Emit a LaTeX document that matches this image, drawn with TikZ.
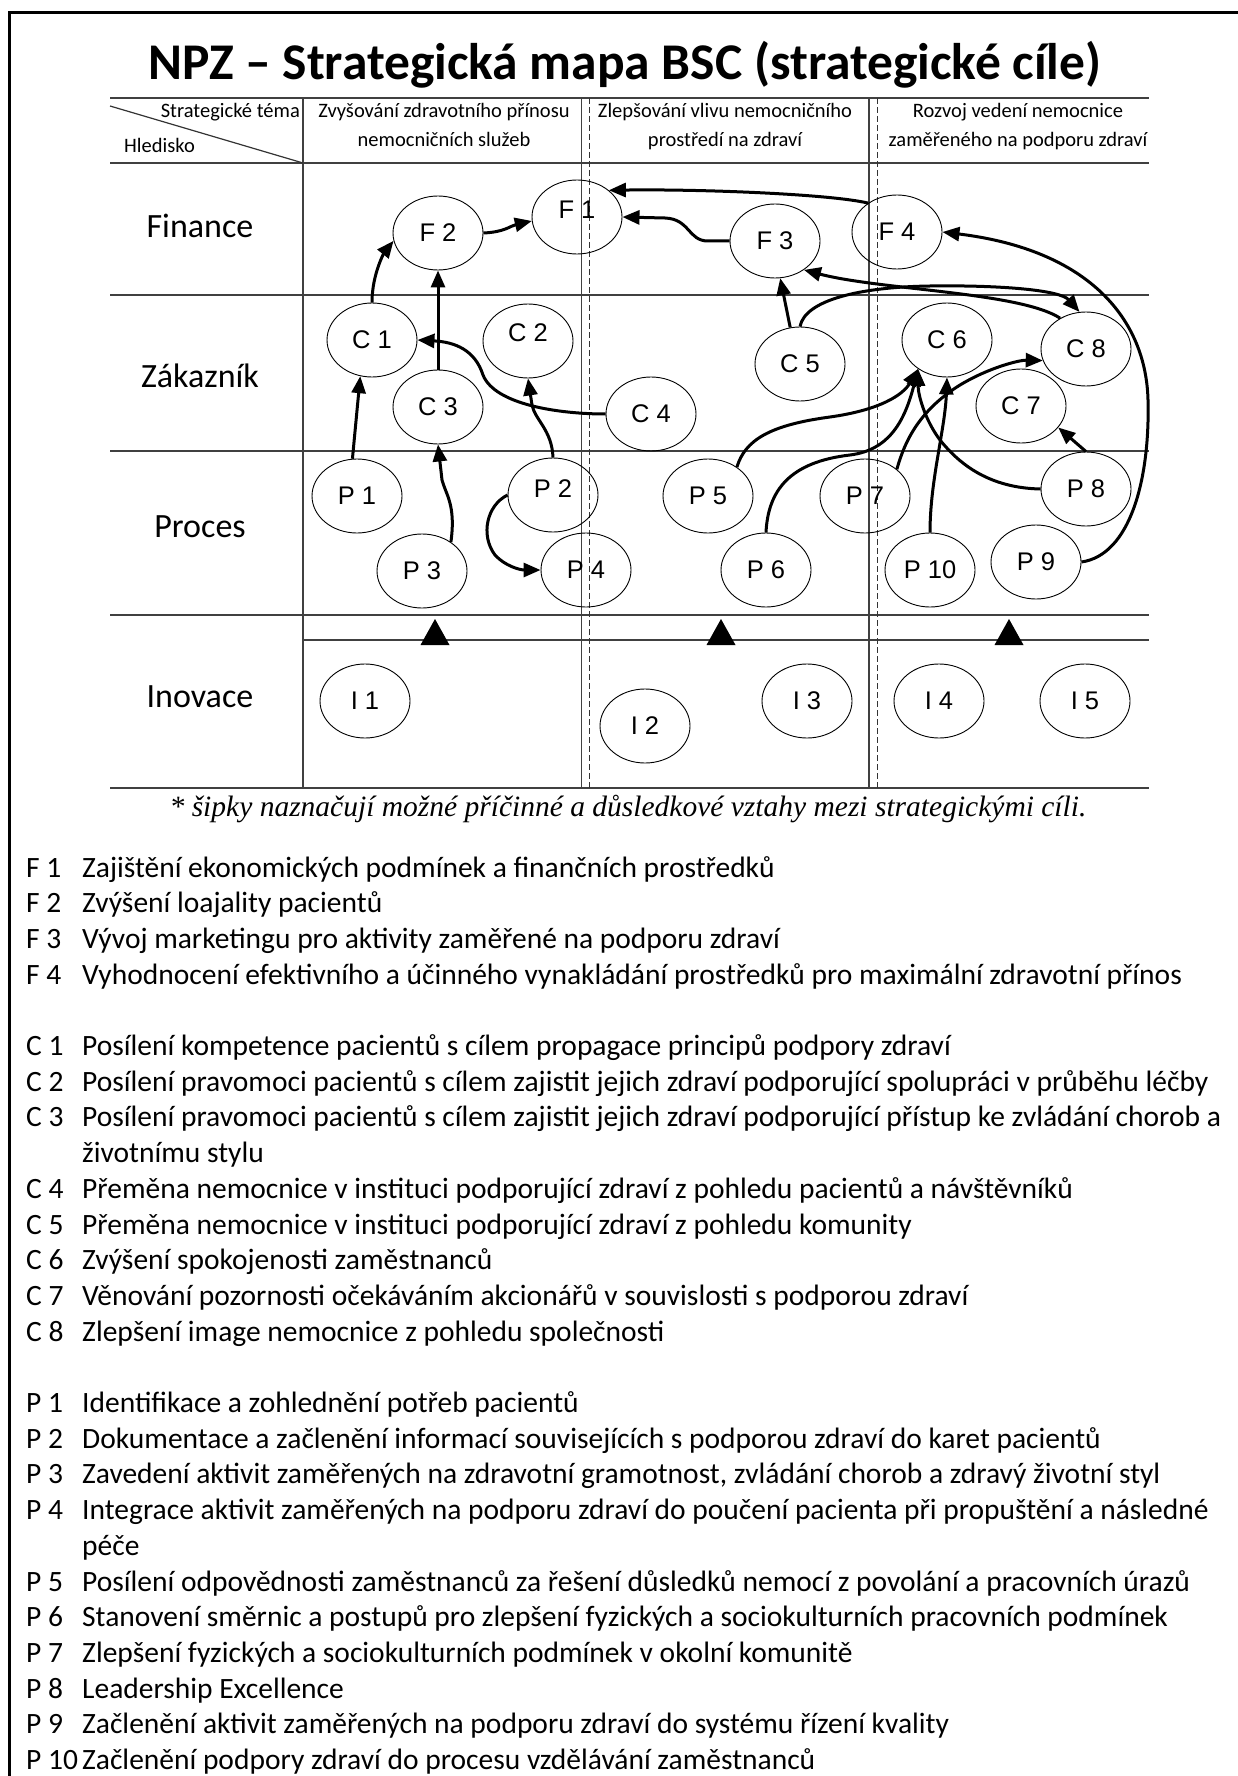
\documentclass[tikz,border=0pt]{standalone}
\usepackage{fontspec}
\setmainfont{Carlito}
\newfontfamily\goalface{Liberation Sans}
\newfontfamily\noteface{Liberation Serif}
\usetikzlibrary{shapes.geometric,arrows.meta}

% one legend line: label at the left margin, text at the hanging indent
\newcommand\goalitem[4]{%
  \node[itemlbl] (k#1) at (26,#2) {#3};
  \node[itemtxt] (t#1) at (82,#2) {#4};}

\tikzset{
  goal/.style={ellipse, draw, line width=0.9pt, minimum width=90pt,
    minimum height=74pt, inner sep=0pt,
    font=\goalface\fontsize{25.5}{30}\selectfont},
  goallbl/.style={font=\goalface\fontsize{25.5}{30}\selectfont, inner sep=0pt},
  conn/.style={line width=3pt, -{Triangle[length=17pt,width=14pt]},
    line join=round},
  rule/.style={line width=1.6pt, black!75},
  dashrule/.style={line width=1pt, black!80, dash pattern=on 6pt off 3pt},
  hdr/.style={anchor=base, inner sep=0pt, font=\fontsize{20.5}{24}\selectfont},
  rowlbl/.style={anchor=base, inner sep=0pt, font=\fontsize{34}{40}\selectfont},
  itemlbl/.style={anchor=base west, inner sep=0pt, font=\fontsize{29.5}{35}\selectfont},
  itemtxt/.style={anchor=base west, inner sep=0pt, font=\fontsize{29.5}{35}\selectfont},
}

\begin{document}
\begin{tikzpicture}[x=1pt, y=-1pt]
\useasboundingbox (0,0) rectangle (1238,1776);
\fill[white] (0,0) rectangle (1238,1776);

% page frame (only top and left sides fall inside the sheet)
\draw[line width=3pt] (9.5,1776) -- (9.5,13) -- (1238,13);

% title
\node[anchor=base, inner sep=0pt, font=\bfseries\fontsize{51.5}{60}\selectfont]
  (title) at (625,80) {NPZ – Strategická mapa BSC (strategické cíle)};

% table grid
\draw[rule] (110,98) -- (1149,98);
\draw[rule] (110,163) -- (1149,163);
\draw[rule] (110,295) -- (1149,295);
\draw[rule] (110,451) -- (1149,451);
\draw[rule] (110,615) -- (1149,615);
\draw[rule] (303,640) -- (1149,640);
\draw[rule] (110,788) -- (1149,788);
\draw[rule, line width=1.3pt] (303,98) -- (303,788);
\draw[rule, line width=1.3pt] (581.5,98) -- (581.5,788);
\draw[dashrule] (589,98) -- (589,788);
\draw[rule, line width=1.3pt] (869,98) -- (869,788);
\draw[dashrule] (877,98) -- (877,788);
\draw[line width=1.2pt, black!80] (110,106) -- (303,163);

% header texts
\node[hdr, anchor=base east] (hTheme) at (300,118) {Strategické téma};
\node[hdr, anchor=base west] (hView) at (124,153) {Hledisko};
\node[hdr] (hA1) at (444,118) {Zvyšování zdravotního přínosu};
\node[hdr] (hA2) at (444,147) {nemocničních služeb};
\node[hdr] (hB1) at (725,118) {Zlepšování vlivu nemocničního};
\node[hdr] (hB2) at (725,147) {prostředí na zdraví};
\node[hdr] (hC1) at (1018,118) {Rozvoj vedení nemocnice};
\node[hdr] (hC2) at (1018,147) {zaměřeného na podporu zdraví};

% perspective labels
\node[rowlbl] (rF) at (200,238) {Finance};
\node[rowlbl] (rC) at (200,387) {Zákazník};
\node[rowlbl] (rP) at (200,537) {Proces};
\node[rowlbl] (rI) at (200,707) {Inovace};

% strategic goals
\node[goal, label={[goallbl, yshift=7pt]center:F 1}] (F1) at (577,217) {};
\node[goal] (F2) at (438,233) {F 2};
\node[goal] (F3) at (775,241) {F 3};
\node[goal] (F4) at (897,232) {F 4};

\node[goal] (C1) at (372,340) {C 1};
\node[goal, label={[goallbl, yshift=8pt]center:C 2}] (C2) at (528,341) {};
\node[goal] (C3) at (438,407) {C 3};
\node[goal] (C4) at (651,414) {C 4};
\node[goal] (C5) at (800,364) {C 5};
\node[goal] (C6) at (947,340) {C 6};
\node[goal] (C7) at (1021,406) {C 7};
\node[goal] (C8) at (1086,349) {C 8};

\node[goal] (P1) at (357,496) {P 1};
\node[goal, label={[goallbl, yshift=6pt]center:P 2}] (P2) at (553,495) {};
\node[goal] (P3) at (422,571) {P 3};
\node[goal] (P4) at (586,570) {P 4};
\node[goal] (P5) at (708,496) {P 5};
\node[goal] (P6) at (766,570) {P 6};
\node[goal] (P7) at (865,496) {P 7};
\node[goal] (P8) at (1086,489) {P 8};
\node[goal] (P9) at (1036,562) {P 9};
\node[goal] (P10) at (930,570) {P 10};

\node[goal] (I1) at (365,701) {I 1};
\node[goal] (I2) at (645,726) {I 2};
\node[goal] (I3) at (807,701) {I 3};
\node[goal] (I4) at (939,701) {I 4};
\node[goal] (I5) at (1085,701) {I 5};

% innovation supports the upper perspectives
\fill (435,619) -- (449.5,645) -- (420.5,645) -- cycle;
\fill (721,619) -- (735.5,645) -- (706.5,645) -- cycle;
\fill (1009,619) -- (1023.5,645) -- (994.5,645) -- cycle;

% cause-and-effect links
\draw[conn] (C1.north) .. controls +(0,-30) and +(-8,10) .. (F2.190);
\draw[conn] (C3.north) -- (F2.south);
\draw[conn] (F2.east) .. controls (505,232) and (510,226) .. (F1.185);
\draw[conn] (F4.135) .. controls (830,194) and (700,189) .. (F1.40);
\draw[conn] (F3.west) -- (708,241) .. controls (688,241) and (690,219) .. (665,218) -- (F1.east);
\draw[conn] (C5.105) -- (F3.278);
\draw[conn] (C8.130) .. controls (1020,292) and (880,290) .. (F3.-45);
\draw[conn] (C5.north) .. controls (805,300) and (860,287) .. (930,286)
  .. controls (1000,285) and (1060,290) .. (C8.100);
\draw[conn] (C4.west) .. controls (560,414) and (495,405) .. (483,375)
  .. controls (475,350) and (455,342) .. (C1.east);
\draw[conn] (P1.97) -- (C1.252);
\draw[conn] (P3.45) .. controls (456,505) and (446,495) .. (442,480) -- (C3.south);
\draw[conn] (P2.north) .. controls (552,430) and (535,420) .. (532,405) -- (C2.south);
\draw[conn] (P2.180) .. controls (487,505) and (480,535) .. (495,555)
  .. controls (505,566) and (520,570) .. (P4.west);
\draw[conn] (P5.45) .. controls (745,440) and (770,425) .. (830,417)
  .. controls (880,410) and (903,395) .. (C6.225);
\draw[conn] (P6.north) .. controls (768,490) and (790,462) .. (850,455)
  .. controls (890,450) and (905,420) .. (C6.225);
\draw[conn] (P8.west) .. controls (990,488) and (960,465) .. (940,440)
  .. controls (925,420) and (918,395) .. (C6.225);
\draw[conn] (P7.40) .. controls (905,440) and (920,410) .. (960,385)
  .. controls (990,367) and (1020,360) .. (C8.195);
\draw[conn] (P10.north) .. controls (930,480) and (945,430) .. (C6.south);
\draw[conn] (P8.north) -- (C7.-30);
\draw[conn] (P9.east) .. controls (1130,555) and (1150,480) .. (1148,400)
  .. controls (1146,320) and (1090,250) .. (F4.east);

% footnote
\node[anchor=base, inner sep=0pt, font=\noteface\itshape\fontsize{29.5}{34}\selectfont]
  (note) at (628,816) {* šipky naznačují možné příčinné a důsledkové vztahy mezi strategickými cíli.};

% legend of the goals
\goalitem{F1}{877.0}{F 1}{Zajištění ekonomických podmínek a finančních prostředků}
\goalitem{F2}{912.7}{F 2}{Zvýšení loajality pacientů}
\goalitem{F3}{948.4}{F 3}{Vývoj marketingu pro aktivity zaměřené na podporu zdraví}
\goalitem{F4}{984.1}{F 4}{Vyhodnocení efektivního a účinného vynakládání prostředků pro maximální zdravotní přínos}

\goalitem{C1}{1055.5}{C 1}{Posílení kompetence pacientů s cílem propagace principů podpory zdraví}
\goalitem{C2}{1091.2}{C 2}{Posílení pravomoci pacientů s cílem zajistit jejich zdraví podporující spolupráci v průběhu léčby}
\goalitem{C3}{1126.9}{C 3}{Posílení pravomoci pacientů s cílem zajistit jejich zdraví podporující přístup ke zvládání chorob a}
\node[itemtxt] (tC3b) at (82,1162.6) {životnímu stylu};
\goalitem{C4}{1198.3}{C 4}{Přeměna nemocnice v instituci podporující zdraví z pohledu pacientů a návštěvníků}
\goalitem{C5}{1234.0}{C 5}{Přeměna nemocnice v instituci podporující zdraví z pohledu komunity}
\goalitem{C6}{1269.7}{C 6}{Zvýšení spokojenosti zaměstnanců}
\goalitem{C7}{1305.4}{C 7}{Věnování pozornosti očekáváním akcionářů v souvislosti s podporou zdraví}
\goalitem{C8}{1341.1}{C 8}{Zlepšení image nemocnice z pohledu společnosti}

\goalitem{P1}{1412.5}{P 1}{Identifikace a zohlednění potřeb pacientů}
\goalitem{P2}{1448.2}{P 2}{Dokumentace a začlenění informací souvisejících s podporou zdraví do karet pacientů}
\goalitem{P3}{1483.9}{P 3}{Zavedení aktivit zaměřených na zdravotní gramotnost, zvládání chorob a zdravý životní styl}
\goalitem{P4}{1519.6}{P 4}{Integrace aktivit zaměřených na podporu zdraví do poučení pacienta při propuštění a následné}
\node[itemtxt] (tP4b) at (82,1555.3) {péče};
\goalitem{P5}{1591.0}{P 5}{Posílení odpovědnosti zaměstnanců za řešení důsledků nemocí z povolání a pracovních úrazů}
\goalitem{P6}{1626.7}{P 6}{Stanovení směrnic a postupů pro zlepšení fyzických a sociokulturních pracovních podmínek}
\goalitem{P7}{1662.4}{P 7}{Zlepšení fyzických a sociokulturních podmínek v okolní komunitě}
\goalitem{P8}{1698.1}{P 8}{Leadership Excellence}
\goalitem{P9}{1733.8}{P 9}{Začlenění aktivit zaměřených na podporu zdraví do systému řízení kvality}
\goalitem{P10}{1769.5}{P 10}{Začlenění podpory zdraví do procesu vzdělávání zaměstnanců}
\end{tikzpicture}
\end{document}
